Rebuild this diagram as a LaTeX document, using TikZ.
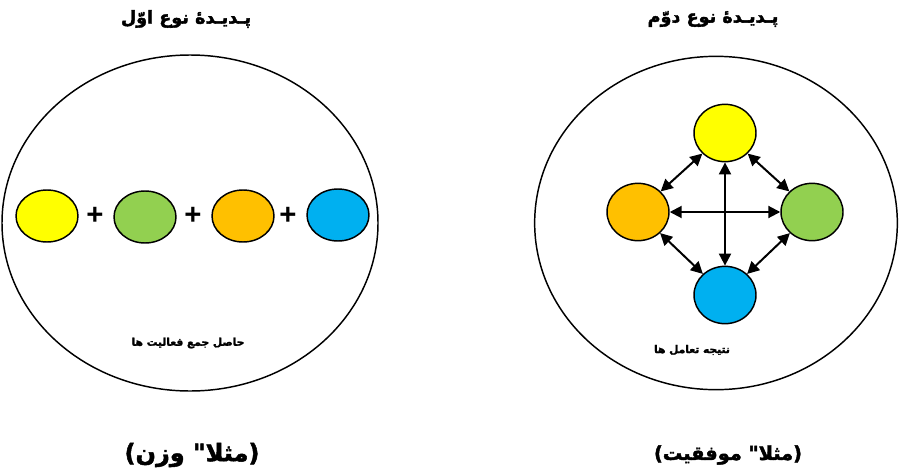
\documentclass[tikz,border=0pt]{standalone}
\usepackage{fontspec}
\setmainfont{Liberation Sans}
\newfontfamily\farsi[Script=Arabic, BoldFeatures={FakeBold=2}]{DejaVu Sans}
\TeXXeTstate=1
\usetikzlibrary{shapes.geometric, arrows.meta, positioning}

\begin{document}
\begin{tikzpicture}[
  x=0.75pt, y=-0.75pt,
  big/.style={draw, ellipse, line width=1.1pt, minimum width=282pt, minimum height=252pt},
  blob/.style={draw, ellipse, line width=1.1pt, minimum width=46.5pt, minimum height=39pt, inner sep=0pt},
  blobr/.style={blob, minimum height=43pt},
  plus/.style={font=\fontsize{22}{22}\selectfont\bfseries, inner sep=0pt},
  title/.style={font=\farsi\fontsize{13.2}{16}\selectfont\bfseries},
  example/.style={font=\farsi\fontsize{#1}{22}\selectfont\bfseries},
  note/.style={font=\farsi\fontsize{8}{10}\selectfont\bfseries},
  arr/.style={{Triangle[length=9pt,width=9pt]}-{Triangle[length=9pt,width=9pt]}, line width=1.5pt}
]
\useasboundingbox (0,0) rectangle (899,468);

% type one: sum
\node[big] (circA) at (190,223) {};
\node[title] (titA) at (186,19) {\beginR پـدیـدهٔ نوع اوّل\endR};
\node[blob, fill={rgb,255:red,255;green,255;blue,0}]   (ya) at (47,216) {};
\node[blob, fill={rgb,255:red,146;green,208;blue,80}]  (ga) at (145,217) {};
\node[blob, fill={rgb,255:red,255;green,192;blue,0}]   (oa) at (243,216) {};
\node[blob, fill={rgb,255:red,0;green,176;blue,240}]   (ba) at (338,215) {};
\node[plus] (p1) at (95,216) {+};
\node[plus] (p2) at (193,216) {+};
\node[plus] (p3) at (288,216) {+};
\node[note] (sumA) at (188,343) {\beginR حاصل جمع فعالیت ها\endR};
\node[example=18] (exA) at (192,455) {\beginR(مثلا" وزن)\endR};

% type two: interaction
\node[big, minimum width=272pt, minimum height=250pt] (circB) at (716,223) {};
\node[title] (titB) at (713,19) {\beginR پـدیـدهٔ نوع دوّم\endR};
\node[blobr, fill={rgb,255:red,255;green,255;blue,0}]  (yb) at (725,133) {};
\node[blobr, fill={rgb,255:red,255;green,192;blue,0}]  (ob) at (638,212) {};
\node[blobr, fill={rgb,255:red,146;green,208;blue,80}] (gb) at (812,212) {};
\node[blobr, fill={rgb,255:red,0;green,176;blue,240}]  (bb) at (725,295) {};
\node[note] (sumB) at (692,350) {\beginR نتیجه تعامل ها\endR};
\node[example=14.5] (exB) at (728,455) {\beginR(مثلا" موفقیت)\endR};

\draw[arr] (yb) -- (ob);
\draw[arr] (yb) -- (gb);
\draw[arr] (ob) -- (bb);
\draw[arr] (gb) -- (bb);
\draw[arr] (yb.south) -- (bb.north);
\draw[arr] (ob.east) -- (gb.west);
\end{tikzpicture}
\end{document}
